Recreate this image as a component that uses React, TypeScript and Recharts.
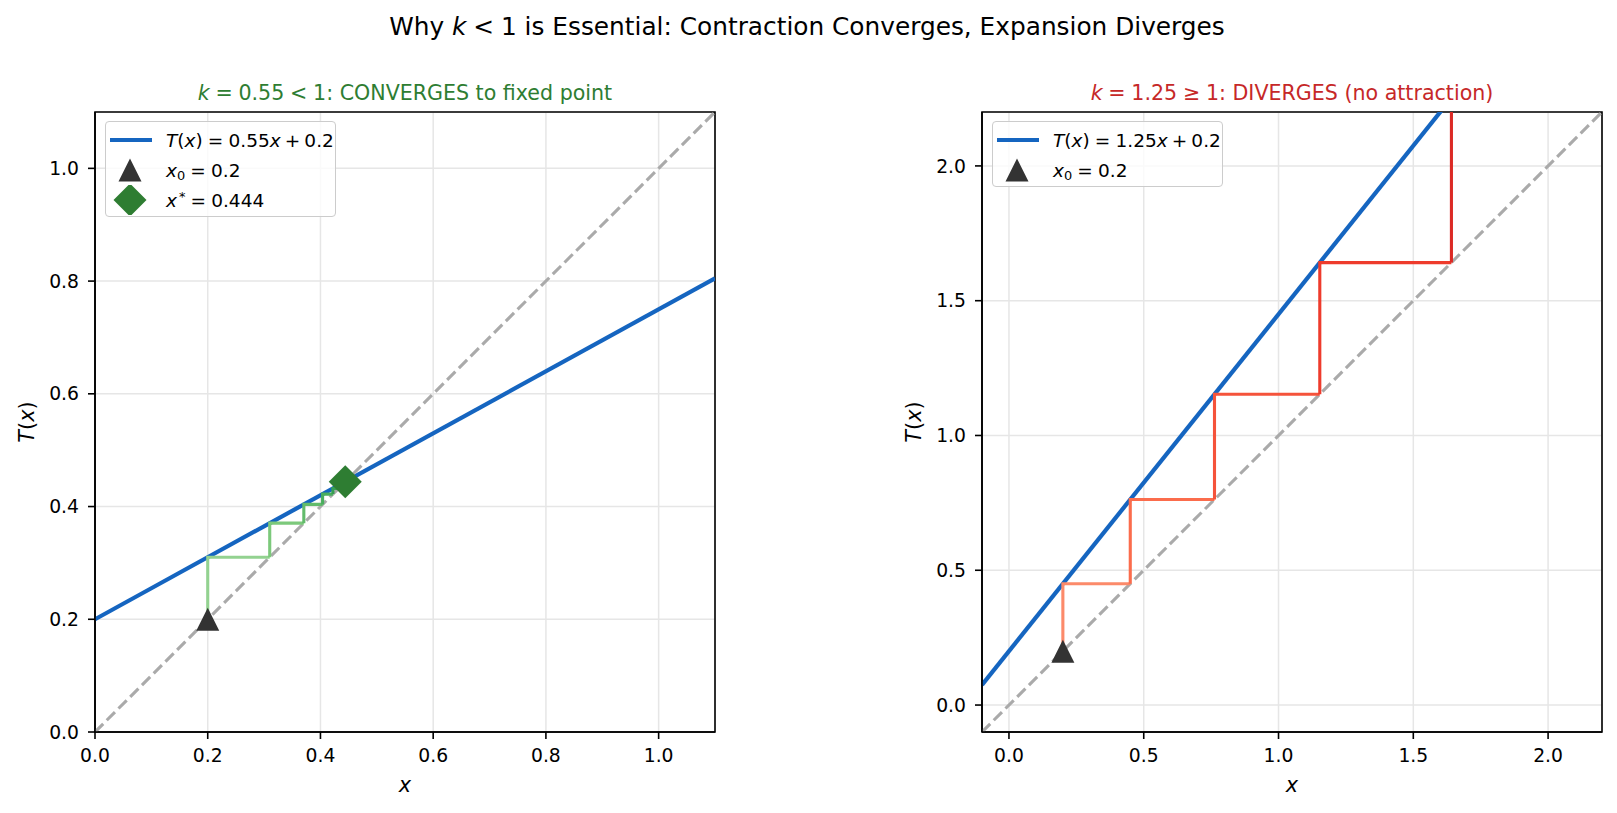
import React from 'react'
import {
  ComposedChart,
  Line,
  Scatter,
  XAxis,
  YAxis,
  CartesianGrid,
  ReferenceArea,
  Legend,
} from 'recharts'

const FONT = '"DejaVu Sans", "Liberation Sans", sans-serif'
const INK = '#000000'
const GRID = '#e6e6e6'
const BLUE = '#1565c0'
const DIAG = '#aaaaaa'
const MARKER = '#333333'
const GREEN = '#2e7d32'
const RED = '#c62828'

// contraction panel, T(x) = 0.55x + 0.2
const contractionDomain: [number, number] = [0, 1.1]
const contractionTicks = [0, 0.2, 0.4, 0.6, 0.8, 1.0]
const contractionMap = [
  { x: 0, y: 0.2 },
  { x: 1.1, y: 0.805 },
]
const contractionDiagonal = [
  { x: 0, y: 0 },
  { x: 1.1, y: 1.1 },
]
const contractionIterates = [0.2, 0.31, 0.3705, 0.4038, 0.4221, 0.4321, 0.4377, 0.4407, 0.4424]
const contractionShades = ['#93d290', '#7cc97b', '#62bb6b', '#4aae5e', '#379f52', '#289047', '#1c823e', '#127436']
const contractionStart = [{ x: 0.2, y: 0.2 }]
const contractionFixed = [{ x: 0.444, y: 0.444 }]

// expansion panel, T(x) = 1.25x + 0.2
const expansionDomain: [number, number] = [-0.1, 2.2]
const expansionTicks = [0, 0.5, 1.0, 1.5, 2.0]
const expansionMap = [
  { x: -0.1, y: 0.075 },
  { x: 2.2, y: 2.95 },
]
const expansionDiagonal = [
  { x: -0.1, y: -0.1 },
  { x: 2.2, y: 2.2 },
]
const expansionIterates = [0.2, 0.45, 0.7625, 1.1531, 1.6414, 2.2518]
const expansionShades = ['#fc8a6a', '#fb6c4c', '#f5533b', '#ee3b2c', '#dc2a25']
const expansionStart = [{ x: 0.2, y: 0.2 }]

type Pt = { x: number; y: number }

// one cobweb step: up to the map, across to the diagonal
const cobweb = (xs: number[]): Pt[][] =>
  xs.slice(0, -1).map((x, i) => [
    { x, y: x },
    { x, y: xs[i + 1] },
    { x: xs[i + 1], y: xs[i + 1] },
  ])

const Triangle = (props: any) => {
  const { cx, cy } = props
  const r = 11.5
  return <polygon points={`${cx},${cy - r} ${cx - r},${cy + r} ${cx + r},${cy + r}`} fill={MARKER} />
}

const Diamond = (props: any) => {
  const { cx, cy } = props
  const r = 16.5
  return <polygon points={`${cx},${cy - r} ${cx + r},${cy} ${cx},${cy + r} ${cx - r},${cy}`} fill={GREEN} />
}

// math-style spacing: relations get a thick space, binary operators a medium one
const REL = 0.278
const BIN = 0.222
const Gap = ({ em }: { em: number }) => <span style={{ display: 'inline-block', width: `${em}em` }} />

type LegendRow = { kind: 'line' | 'triangle' | 'diamond'; label: React.ReactNode }

function LegendBox({ rows }: { rows: LegendRow[] }) {
  return (
    <div
      style={{
        position: 'relative',
        width: 229,
        height: rows.length * 30 + 4,
        border: '1px solid #cccccc',
        borderRadius: 4,
        background: 'rgba(255,255,255,0.8)',
        fontFamily: FONT,
        fontSize: 18.5,
        color: INK,
      }}
    >
      {rows.map((r, i) => (
        <div
          key={i}
          style={{ position: 'absolute', left: 0, top: 3 + i * 30, height: 30, display: 'flex', alignItems: 'center', whiteSpace: 'nowrap' }}
        >
          <svg width={60} height={30} style={{ flex: 'none' }}>
            {r.kind === 'line' && <line x1={4} x2={46} y1={15} y2={15} stroke={BLUE} strokeWidth={4.2} />}
            {r.kind === 'triangle' && <Triangle cx={24} cy={15} />}
            {r.kind === 'diamond' && <Diamond cx={24} cy={15} />}
          </svg>
          <span>{r.label}</span>
        </div>
      ))}
    </div>
  )
}

const Sub = ({ children }: { children: React.ReactNode }) => (
  <span style={{ fontSize: '0.7em', position: 'relative', top: '0.3em' }}>{children}</span>
)
const Sup = ({ children }: { children: React.ReactNode }) => (
  <span style={{ fontSize: '0.7em', position: 'relative', top: '-0.45em', marginLeft: 2 }}>{children}</span>
)

const mapLabel = (slope: string) => (
  <>
    <i>T</i>(<i>x</i>)<Gap em={REL} />=<Gap em={REL} />{slope}<i>x</i><Gap em={BIN} />+<Gap em={BIN} />0.2
  </>
)

const contractionLegend: LegendRow[] = [
  { kind: 'line', label: mapLabel('0.55') },
  { kind: 'triangle', label: <><i>x</i><Sub>0</Sub><Gap em={REL} />=<Gap em={REL} />0.2</> },
  { kind: 'diamond', label: <><i>x</i><Sup>*</Sup><Gap em={REL} />=<Gap em={REL} />0.444</> },
]

const expansionLegend: LegendRow[] = [
  { kind: 'line', label: mapLabel('1.25') },
  { kind: 'triangle', label: <><i>x</i><Sub>0</Sub><Gap em={REL} />=<Gap em={REL} />0.2</> },
]

const tickStyle = { fontSize: 18.75, fill: INK, fontFamily: FONT }

interface PanelProps {
  left: number
  marginLeft: number
  marginRight: number
  domain: [number, number]
  ticks: number[]
  map: Pt[]
  diagonal: Pt[]
  iterates: number[]
  shades: string[]
  start: Pt[]
  fixed?: Pt[]
  legend: LegendRow[]
}

function Panel({ left, marginLeft, marginRight, domain, ticks, map, diagonal, iterates, shades, start, fixed, legend }: PanelProps) {
  const width = 760
  const steps = cobweb(iterates)
  return (
    <div style={{ position: 'absolute', left, top: 0 }}>
      <ComposedChart width={width} height={813} margin={{ top: 112, right: marginRight, bottom: 31, left: marginLeft }}>
        <CartesianGrid stroke={GRID} strokeWidth={1.5} />
        <XAxis
          dataKey="x"
          type="number"
          domain={domain}
          ticks={ticks}
          allowDataOverflow
          height={50}
          tickFormatter={(v: number) => v.toFixed(1)}
          tick={tickStyle}
          tickSize={7}
          tickMargin={10}
          tickLine={{ stroke: INK, strokeWidth: 1.6 }}
          axisLine={{ stroke: INK, strokeWidth: 1.6 }}
          label={{
            content: (p: any) => (
              <text
                x={p.viewBox.x + p.viewBox.width / 2}
                y={p.viewBox.y + 59.5}
                textAnchor="middle"
                fontStyle="italic"
                fontSize={20.8}
                fontFamily={FONT}
                fill={INK}
              >
                x
              </text>
            ),
          }}
        />
        <YAxis
          dataKey="y"
          type="number"
          domain={domain}
          ticks={ticks}
          allowDataOverflow
          width={60}
          tickFormatter={(v: number) => v.toFixed(1)}
          tick={tickStyle}
          tickSize={7}
          tickMargin={9}
          tickLine={{ stroke: INK, strokeWidth: 1.6 }}
          axisLine={{ stroke: INK, strokeWidth: 1.6 }}
          label={{
            content: (p: any) => {
              const x = p.viewBox.x + p.viewBox.width - 61
              const y = p.viewBox.y + p.viewBox.height / 2
              return (
                <text x={x} y={y} transform={`rotate(-90, ${x}, ${y})`} textAnchor="middle" fontSize={20.8} fontFamily={FONT} fill={INK}>
                  <tspan fontStyle="italic">T</tspan>(<tspan fontStyle="italic">x</tspan>)
                </text>
              )
            },
          }}
        />
        <Line data={map} dataKey="y" stroke={BLUE} strokeWidth={4.2} dot={false} activeDot={false} isAnimationActive={false} />
        <Line
          data={diagonal}
          dataKey="y"
          stroke={DIAG}
          strokeWidth={3.1}
          strokeDasharray="11.6 5"
          dot={false}
          activeDot={false}
          isAnimationActive={false}
        />
        {steps.map((seg, i) => (
          <Line
            key={i}
            data={seg}
            dataKey="y"
            stroke={shades[i]}
            strokeWidth={3.1}
            dot={false}
            activeDot={false}
            isAnimationActive={false}
          />
        ))}
        <Scatter data={start} shape={Triangle} isAnimationActive={false} />
        {fixed && <Scatter data={fixed} shape={Diamond} isAnimationActive={false} />}
        <ReferenceArea x1={domain[0]} x2={domain[1]} y1={domain[0]} y2={domain[1]} fill="none" stroke={INK} strokeWidth={1.6} />
        <Legend
          layout="horizontal"
          verticalAlign="middle"
          align="center"
          wrapperStyle={{ left: marginLeft + 60 + 10, top: 121, width: 231, height: legend.length * 30 + 6 }}
          content={() => <LegendBox rows={legend} />}
        />
      </ComposedChart>
    </div>
  )
}

// svg text pieces with the same math spacing as the legend
const rel = (fs: number) => fs * REL

export default function App() {
  const sub = 20.6
  const sup = 24.8
  return (
    <div style={{ position: 'absolute', left: 0, top: 0, width: 1617, height: 813, background: '#ffffff', fontFamily: FONT }}>
      <Panel
        left={0}
        marginLeft={35}
        marginRight={45}
        domain={contractionDomain}
        ticks={contractionTicks}
        map={contractionMap}
        diagonal={contractionDiagonal}
        iterates={contractionIterates}
        shades={contractionShades}
        start={contractionStart}
        fixed={contractionFixed}
        legend={contractionLegend}
      />
      <Panel
        left={880}
        marginLeft={42}
        marginRight={38}
        domain={expansionDomain}
        ticks={expansionTicks}
        map={expansionMap}
        diagonal={expansionDiagonal}
        iterates={expansionIterates}
        shades={expansionShades}
        start={expansionStart}
        legend={expansionLegend}
      />
      <svg width={1617} height={813} style={{ position: 'absolute', left: 0, top: 0, pointerEvents: 'none' }}>
        <text x={807} y={35} textAnchor="middle" fontSize={sup} fontFamily={FONT} fill={INK}>
          <tspan>Why </tspan>
          <tspan fontStyle="italic">k</tspan>
          <tspan dx={rel(sup)}>&lt;</tspan>
          <tspan dx={rel(sup)}>1 is Essential: Contraction Converges, Expansion Diverges</tspan>
        </text>
        <text x={405} y={99.5} textAnchor="middle" fontSize={sub} fontFamily={FONT} fill={GREEN}>
          <tspan fontStyle="italic">k</tspan>
          <tspan dx={rel(sub)}>=</tspan>
          <tspan dx={rel(sub)}>0.55</tspan>
          <tspan dx={rel(sub)}>&lt;</tspan>
          <tspan dx={rel(sub)}>1: CONVERGES to fixed point</tspan>
        </text>
        <text x={1292} y={99.5} textAnchor="middle" fontSize={sub} fontFamily={FONT} fill={RED}>
          <tspan fontStyle="italic">k</tspan>
          <tspan dx={rel(sub)}>=</tspan>
          <tspan dx={rel(sub)}>1.25</tspan>
          <tspan dx={rel(sub)}>≥</tspan>
          <tspan dx={rel(sub)}>1: DIVERGES (no attraction)</tspan>
        </text>
      </svg>
    </div>
  )
}
